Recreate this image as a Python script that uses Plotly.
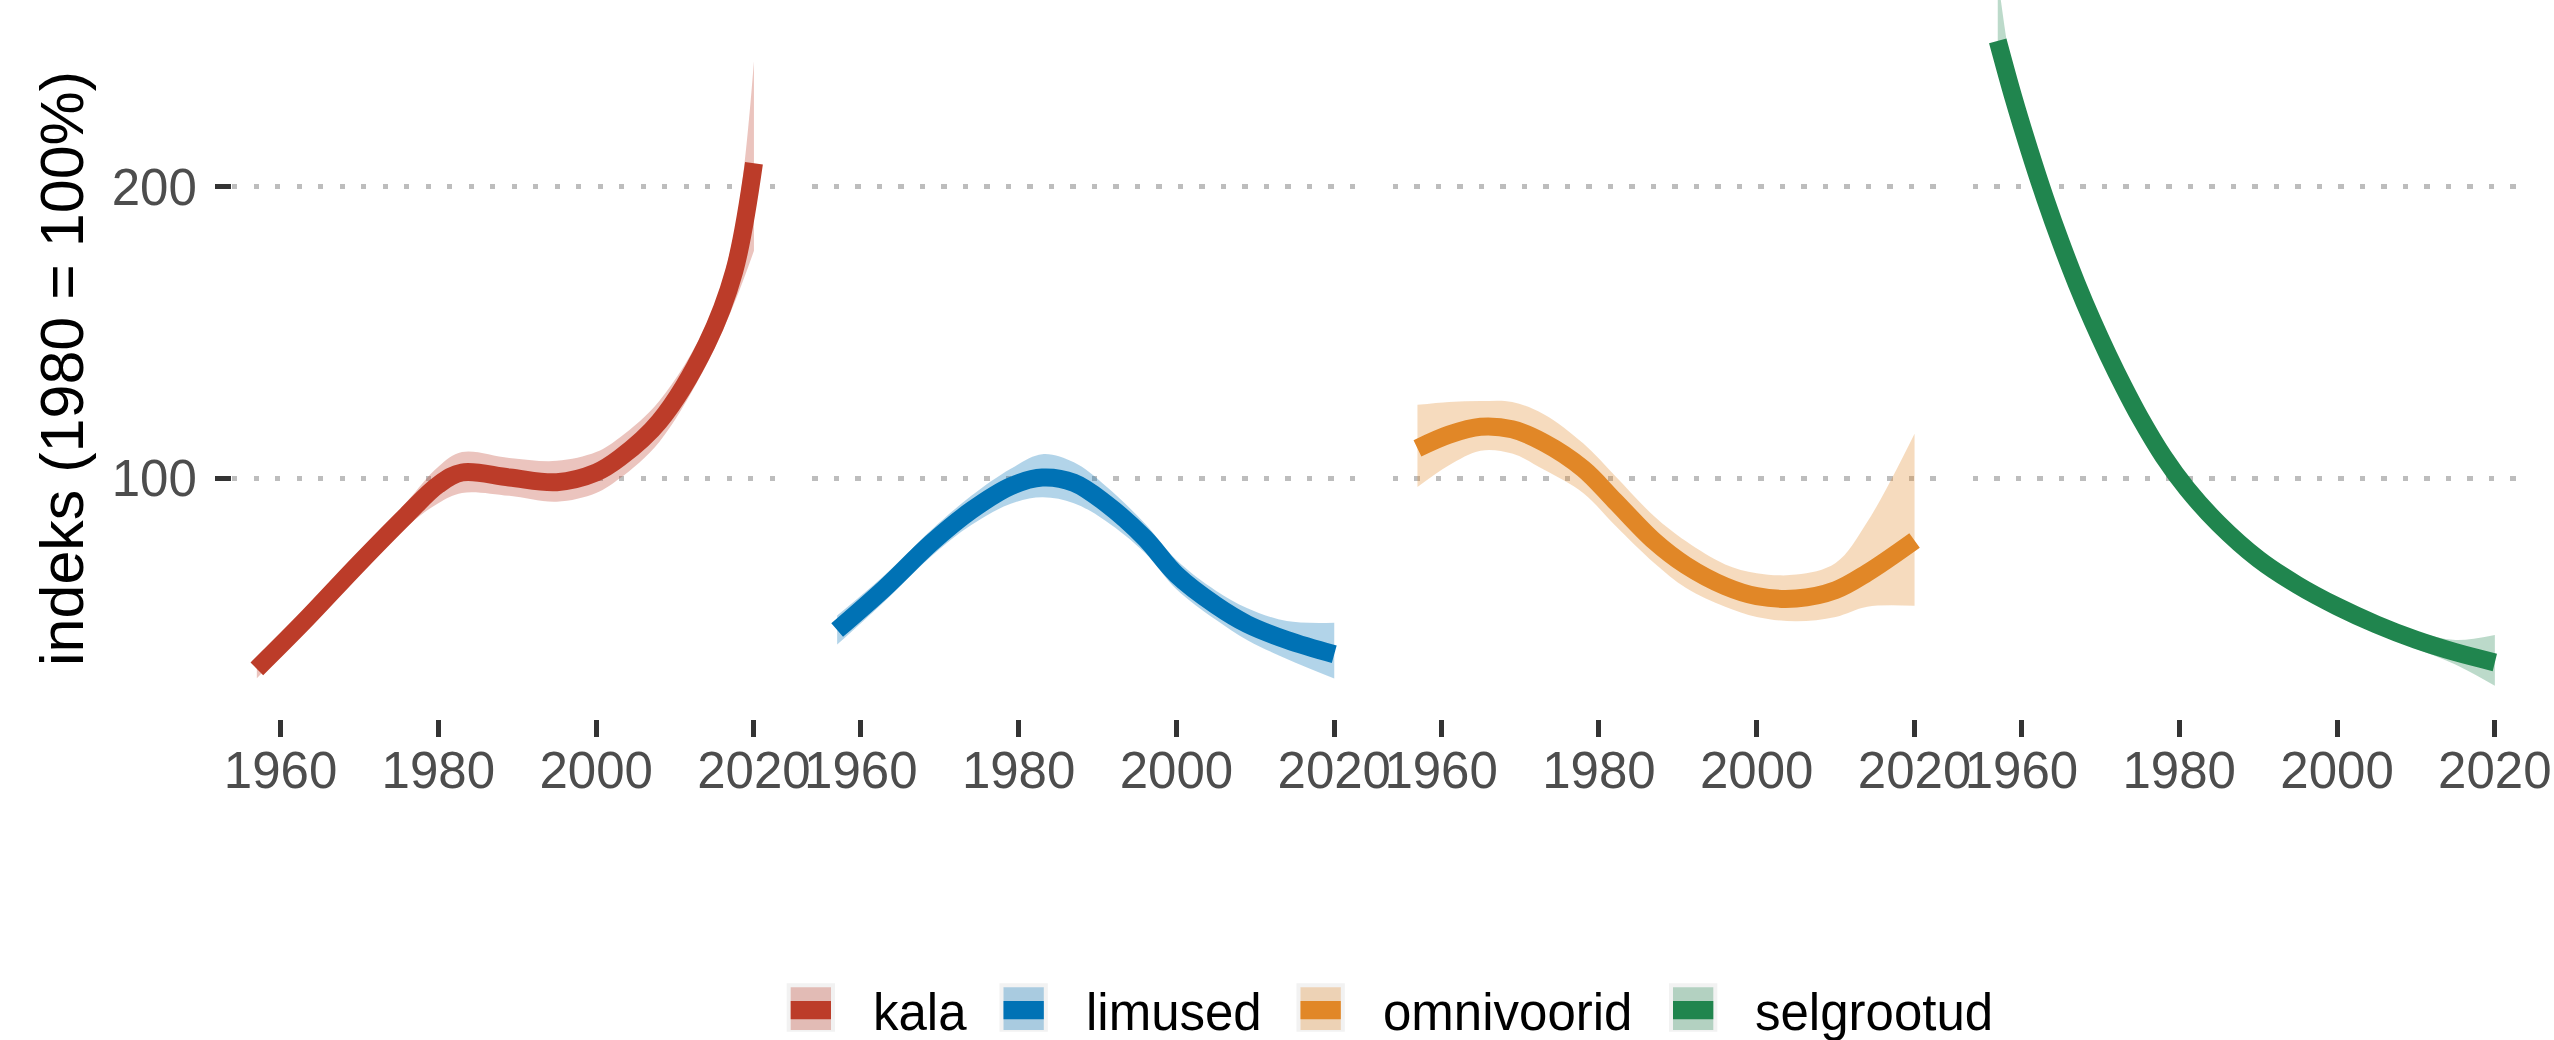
import plotly.graph_objects as go

# ---------------- data ----------------
categories = ["kala", "limused", "omnivoorid", "selgrootud"]
colors = ["#BC3C29", "#0072B5", "#E18727", "#20854E"]

kala_year = [1957, 1963, 1970, 1976, 1980, 1983, 1989, 1995, 2000, 2003, 2008, 2014, 2017.5, 2020]
kala_fit = [34.7, 51, 71, 87.5, 97.8, 102, 100.3, 98.7, 102, 107, 119.5, 146, 171, 208]
kala_hi = [37.5, 54, 74.5, 92, 104, 109, 107, 106, 109, 114, 126.5, 153, 184, 243]
kala_lo = [31.5, 48, 67.5, 83.5, 91.5, 95, 94, 92, 95, 100, 112.5, 139, 160, 178]

limused_year = [1957, 1963, 1969, 1974, 1979, 1983, 1987, 1991, 1996, 2000, 2005, 2009, 2014, 2020]
limused_fit = [48, 62.3, 78, 89, 97.3, 100.3, 98.5, 91.5, 79.5, 67, 56.5, 50, 44.6, 39.7]
limused_hi = [53, 66.8, 82.5, 94, 103.3, 108.3, 105.5, 97.5, 84.5, 72, 61.5, 55.5, 51.1, 50.5]
limused_lo = [43, 57.8, 73.5, 84, 91.3, 93.5, 91.5, 85.5, 74.5, 62, 51.5, 44.5, 38.1, 31.4]

omni_year = [1957, 1961, 1965, 1969, 1973, 1978, 1982, 1987, 1991, 1996, 2000, 2005, 2010, 2014, 2020]
omni_fit = [110.3, 115, 117.7, 116.8, 112.3, 103.3, 92.3, 78.5, 70.2, 63, 59.6, 58.8, 61.7, 67.6, 78.7]
omni_hi = [125.2, 126.2, 126.5, 126.2, 122, 112, 101, 87, 78.5, 70.5, 67.5, 67, 71, 85, 115.3]
omni_lo = [97, 104.5, 109.5, 108.5, 103, 95, 84, 71, 62.5, 56, 52.5, 51, 52.5, 56, 56.3]

selg_year = [1957, 1959, 1961, 1963, 1965, 1967, 1969, 1971, 1973, 1975, 1978, 1981, 1985, 1990, 1995, 2000, 2005, 2010, 2015, 2020]
selg_fit = [250, 230.4, 212.6, 196, 180.8, 166.8, 154, 142.2, 131.2, 121, 107.5, 96.4, 84.4, 72.4, 63.4, 56.1, 49.9, 44.65, 40.4, 36.9]
selg_hi = [272, 236.4, 216.6, 199.5, 184, 169.8, 157, 145.2, 134.2, 124.2, 111.5, 100.6, 88.2, 75.4, 66.2, 58.9, 52.7, 47.6, 44.6, 46.3]
selg_lo = [245, 224.4, 208.6, 192.5, 177.6, 163.8, 151, 139.2, 128.2, 117.8, 103.5, 92.2, 80.6, 69.4, 60.6, 53.3, 47.1, 41.7, 36.2, 28.9]

x_ticks = [1960, 1980, 2000, 2020]
y_ticks = [100, 200]
y_title = "indeks (1980 = 100%)"

series = [
    (kala_year, kala_fit, kala_lo, kala_hi),
    (limused_year, limused_fit, limused_lo, limused_hi),
    (omni_year, omni_fit, omni_lo, omni_hi),
    (selg_year, selg_fit, selg_lo, selg_hi),
]

# ---------------- layout geometry (pixels) ----------------
W, H = 2554, 1040
panel_left = [232, 812.3, 1392.6, 1972.9]
panel_w = 546.8
panel_top, panel_bottom = 0, 719
x_range = [1953.85, 2023.15]
y_range = [17.5, 264]
FONT = "Liberation Sans, Arial, sans-serif"
LINE_W = 18


def rgba(hex_color, a):
    h = hex_color.lstrip("#")
    r, g, b = int(h[0:2], 16), int(h[2:4], 16), int(h[4:6], 16)
    return f"rgba({r},{g},{b},{a})"


def px(x):
    return x / W


def py(y):
    return 1 - y / H


fig = go.Figure()
layout = dict(
    width=W, height=H,
    margin=dict(l=0, r=0, t=0, b=0),
    paper_bgcolor="white", plot_bgcolor="white",
    showlegend=False,
    font=dict(family=FONT, color="#4D4D4D"),
    template="none",
)

for i, (cat, col, (xs, fit, lo, hi)) in enumerate(zip(categories, colors, series)):
    sfx = "" if i == 0 else str(i + 1)
    xa, ya = "x" + sfx, "y" + sfx
    fig.add_trace(go.Scatter(x=xs, y=lo, xaxis=xa, yaxis=ya, mode="lines",
                             line=dict(width=0, shape="spline", color=col),
                             hoverinfo="skip", showlegend=False))
    fig.add_trace(go.Scatter(x=xs, y=hi, xaxis=xa, yaxis=ya, mode="lines",
                             line=dict(width=0, shape="spline", color=col),
                             fill="tonexty", fillcolor=rgba(col, 0.3),
                             hoverinfo="skip", showlegend=False))
    fig.add_trace(go.Scatter(x=xs, y=fit, xaxis=xa, yaxis=ya, mode="lines",
                             line=dict(width=LINE_W, shape="spline", color=col),
                             name=cat, showlegend=False))

    layout["xaxis" + sfx] = dict(
        domain=[px(panel_left[i]), px(panel_left[i] + panel_w)], range=x_range, anchor=ya,
        tickmode="array", tickvals=x_ticks, ticktext=[str(t) for t in x_ticks],
        ticks="outside", ticklen=17, tickwidth=5, tickcolor="#333333",
        ticklabelstandoff=-10,
        tickfont=dict(family=FONT, size=51, color="#4D4D4D"),
        showgrid=False, zeroline=False, showline=False, automargin=False,
        fixedrange=True,
    )
    layout["yaxis" + sfx] = dict(
        domain=[py(panel_bottom), py(panel_top)], range=y_range, anchor=xa,
        tickmode="array", tickvals=y_ticks, ticktext=[str(t) for t in y_ticks],
        ticks="outside" if i == 0 else "", ticklen=16, tickwidth=5, tickcolor="#333333",
        showticklabels=(i == 0), ticklabelstandoff=8,
        tickfont=dict(family=FONT, size=51, color="#4D4D4D"),
        showgrid=True, gridcolor="#BDBDBD", gridwidth=5, griddash="5.4px,16.1px",
        zeroline=False, showline=False, automargin=False, fixedrange=True,
    )

fig.update_layout(**layout)

# y-axis title
fig.add_annotation(xref="paper", yref="paper", x=px(62), y=py(369),
                   text=y_title, textangle=-90, showarrow=False,
                   xanchor="center", yanchor="middle",
                   font=dict(family=FONT, size=61, color="black"))

# legend (drawn manually, ggplot-style keys)
key_x = [786.7, 999.5, 1296.5, 1669]
key_w, key_top, key_bot = 48.3, 983.3, 1031.7
inner_top, inner_bot, inset = 987.3, 1030, 4
band_top, band_bot = 1001, 1019.3
text_dx = 84.3

for cat, col, kx in zip(categories, colors, key_x):
    fig.add_shape(type="rect", xref="paper", yref="paper",
                  x0=px(kx), x1=px(kx + key_w), y0=py(key_bot), y1=py(key_top),
                  fillcolor="#F2F2F2", line=dict(width=0), layer="above")
    fig.add_shape(type="rect", xref="paper", yref="paper",
                  x0=px(kx + inset), x1=px(kx + key_w - inset), y0=py(inner_bot), y1=py(inner_top),
                  fillcolor=rgba(col, 0.3), line=dict(width=0), layer="above")
    fig.add_shape(type="rect", xref="paper", yref="paper",
                  x0=px(kx + inset), x1=px(kx + key_w - inset), y0=py(band_bot), y1=py(band_top),
                  fillcolor=col, line=dict(width=0), layer="above")
    fig.add_annotation(xref="paper", yref="paper", x=px(kx + text_dx), y=py(1012),
                       text=cat, showarrow=False, xanchor="left", yanchor="middle",
                       font=dict(family=FONT, size=51, color="black"))

fig.write_html(
    "out.html",
    config={"displayModeBar": False},
    post_script="document.body.style.margin='0';document.body.style.overflow='hidden';"
                "document.documentElement.style.overflow='hidden';",
)
